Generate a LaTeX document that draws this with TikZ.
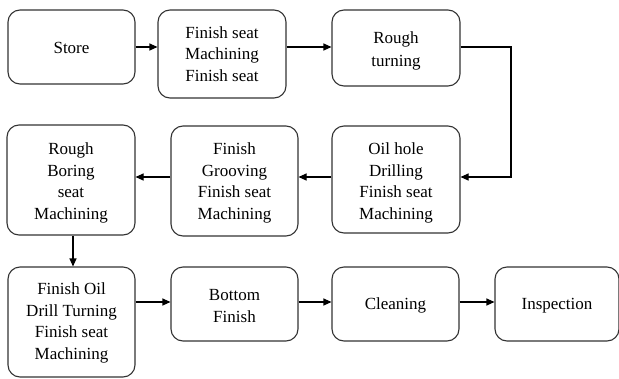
\documentclass[tikz,border=0pt]{standalone}
\usepackage{fontspec}
\setmainfont{Liberation Serif}
\usetikzlibrary{arrows.meta}
\newcommand\stepnode[7][21.5]{%
  \node[stepbox, minimum width=#3, minimum height=#4] (#2) at (#5) {};
  \node[steptext, font=\fontsize{17}{#1}\selectfont] (#2-t) at ([yshift=#6]#2.center) {#7};}
\begin{document}
\begin{tikzpicture}[x=1pt,y=-1pt,
  stepbox/.style={draw=black!80, line width=1.1pt, rounded corners=12pt, inner sep=0pt, fill=white},
  steptext/.style={align=center, inner sep=0pt},
  flow/.style={line width=1.1pt, -{Triangle[length=8pt,width=7pt]}}]
\useasboundingbox (0,0) rectangle (619,378);
\stepnode{store}{127pt}{74pt}{71.5,47}{-1pt}{Store}
\stepnode{fs}{128pt}{88pt}{222,54}{0pt}{Finish seat\\Machining\\Finish seat}
\stepnode[23.5]{rt}{128pt}{76pt}{396,48}{-3pt}{Rough\\turning}
\stepnode{oh}{128pt}{107pt}{396,179.5}{-3.5pt}{Oil hole\\Drilling\\Finish seat\\Machining}
\stepnode{fg}{127pt}{110pt}{234.5,181}{-2pt}{Finish\\Grooving\\Finish seat\\Machining}
\stepnode{rb}{128pt}{110pt}{71,180}{-3pt}{Rough\\Boring\\seat\\Machining}
\stepnode{fo}{127pt}{110pt}{71.5,322}{-1pt}{Finish Oil\\Drill Turning\\Finish seat\\Machining}
\stepnode{bf}{127pt}{74pt}{234.5,304}{-2pt}{Bottom\\Finish}
\stepnode{cl}{127pt}{74pt}{395.5,304}{-1.5pt}{Cleaning}
\stepnode{in}{124pt}{74pt}{557,304}{-2pt}{Inspection}
\coordinate (c1) at (511,47);
\coordinate (c2) at (511,177);
\draw[flow] (store.east |- 0,47) -- (fs.west |- 0,47);
\draw[flow] (fs.east |- 0,47) -- (rt.west |- 0,47);
\draw[flow] (rt.east |- c1) -- (c1) -- (c2) -- (oh.east |- c2);
\draw[flow] (oh.west |- 0,177) -- (fg.east |- 0,177);
\draw[flow] (fg.west |- 0,177) -- (rb.east |- 0,177);
\draw[flow] (rb.south -| 73,0) -- (fo.north -| 73,0);
\draw[flow] (fo.east |- 0,302) -- (bf.west |- 0,302);
\draw[flow] (bf.east |- 0,302) -- (cl.west |- 0,302);
\draw[flow] (cl.east |- 0,302) -- (in.west |- 0,302);
\end{tikzpicture}
\end{document}
